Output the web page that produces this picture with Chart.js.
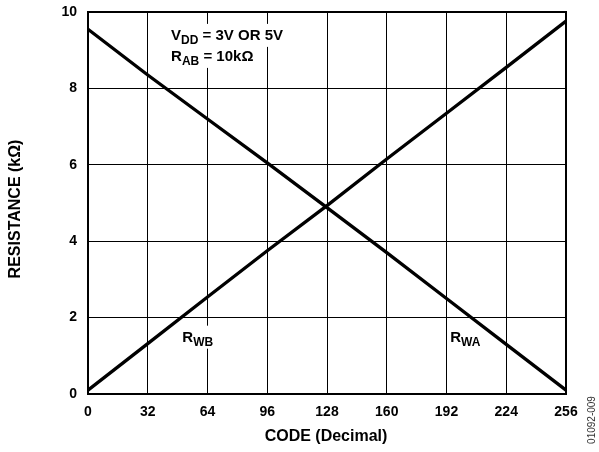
<!DOCTYPE html>
<html>
<head>
<meta charset="utf-8">
<script src="https://cdn.jsdelivr.net/npm/chart.js@4.4.0/dist/chart.umd.min.js"></script>
<style>
  html, body { margin: 0; padding: 0; background: #fff; }
  #wrap { width: 599px; height: 452px; }
</style>
</head>
<body>
<div id="wrap"><canvas id="resChart"></canvas></div>
<script>
// codes, every 32 steps
var codes = [0, 32, 64, 96, 128, 160, 192, 224, 256];
// R_WB rises, R_WA falls (kOhm)
var rwb = [0.1, 1.32, 2.54, 3.75, 4.93, 6.15, 7.35, 8.55, 9.76];
var rwa = [9.55, 8.35, 7.2, 6.05, 4.88, 3.7, 2.5, 1.3, 0.1];
var xTicks = [0, 32, 64, 96, 128, 160, 192, 224, 256];
var yTicks = [0, 2, 4, 6, 8, 10];

var FONT = '"Liberation Sans", Arial, Helvetica, sans-serif';

function pts(ys) {
    return codes.map(function (c, i) { return { x: c, y: ys[i] }; });
}

// draws "R" + subscript etc., with white box behind
function subText(ctx, x, y, main, sub, rest, size) {
    var subSize = Math.round(size * 0.8);
    ctx.font = 'bold ' + size + 'px ' + FONT;
    var w1 = ctx.measureText(main).width;
    ctx.font = 'bold ' + subSize + 'px ' + FONT;
    var w2 = ctx.measureText(sub).width;
    ctx.font = 'bold ' + size + 'px ' + FONT;
    var w3 = ctx.measureText(rest).width;
    ctx.fillStyle = '#fff';
    ctx.fillRect(x - 3, y - size - 1, w1 + w2 + w3 + 6, size + 8);
    ctx.fillStyle = '#000';
    ctx.textAlign = 'left';
    ctx.textBaseline = 'alphabetic';
    ctx.fillText(main, x, y);
    ctx.font = 'bold ' + subSize + 'px ' + FONT;
    ctx.fillText(sub, x + w1, y + 4);
    ctx.font = 'bold ' + size + 'px ' + FONT;
    ctx.fillText(rest, x + w1 + w2, y);
}

var labelsPlugin = {
    id: 'labels',
    beforeDatasetsDraw: function (chart) {
        var ctx = chart.ctx;
        var xs = chart.scales.x, ys = chart.scales.y;
        ctx.save();
        subText(ctx, xs.getPixelForValue(44.5), ys.getPixelForValue(9.27), 'V', 'DD', ' = 3V OR 5V', 15);
        subText(ctx, xs.getPixelForValue(44.5), ys.getPixelForValue(8.72), 'R', 'AB', ' = 10k\u03A9', 15);
        subText(ctx, xs.getPixelForValue(50.5), ys.getPixelForValue(1.37), 'R', 'WB', '', 15);
        subText(ctx, xs.getPixelForValue(194), ys.getPixelForValue(1.37), 'R', 'WA', '', 15);
        ctx.restore();
    },
    afterDraw: function (chart) {
        var ctx = chart.ctx;
        var a = chart.chartArea;
        ctx.save();
        ctx.fillStyle = '#000';
        ctx.textAlign = 'center';
        ctx.textBaseline = 'middle';
        ctx.font = 'bold 16px ' + FONT;
        ctx.fillText('CODE (Decimal)', 326, 437);
        ctx.save();
        ctx.translate(16, 209);
        ctx.rotate(-Math.PI / 2);
        ctx.fillText('RESISTANCE (k\u03A9)', 0, 0);
        ctx.restore();
        ctx.save();
        ctx.font = '10px ' + FONT;
        ctx.fillStyle = '#333';
        ctx.translate(592, 420);
        ctx.rotate(-Math.PI / 2);
        ctx.fillText('01092-009', 0, 0);
        ctx.restore();
        // frame
        ctx.strokeStyle = '#000';
        ctx.lineWidth = 2;
        ctx.strokeRect(a.left, a.top, a.right - a.left, a.bottom - a.top);
        ctx.restore();
    }
};

var ctx = document.getElementById('resChart').getContext('2d');
var myChart = new Chart(ctx, {
    type: 'line',
    data: {
        datasets: [{
            label: 'RWB',
            data: pts(rwb),
            borderColor: '#000',
            borderWidth: 3.3,
            pointRadius: 0,
            fill: false
        }, {
            label: 'RWA',
            data: pts(rwa),
            borderColor: '#000',
            borderWidth: 3.3,
            pointRadius: 0,
            fill: false
        }]
    },
    options: {
        responsive: true,
        maintainAspectRatio: false,
        animation: false,
        layout: { padding: { left: 0, top: 12, right: 33, bottom: 0 } },
        plugins: {
            legend: { display: false },
            tooltip: { enabled: false }
        },
        scales: {
            x: {
                type: 'linear',
                min: 0,
                max: 256,
                afterBuildTicks: function (s) { s.ticks = xTicks.map(function (v) { return { value: v }; }); },
                afterFit: function (s) { s.height = 58; s.paddingLeft = 0; s.paddingRight = 0; },
                grid: { color: '#000', lineWidth: 1, drawTicks: false },
                border: { display: false },
                ticks: {
                    color: '#000',
                    padding: 10,
                    maxRotation: 0,
                    font: { family: FONT, size: 14, weight: 'bold' }
                }
            },
            y: {
                min: 0,
                max: 10,
                afterBuildTicks: function (s) { s.ticks = yTicks.map(function (v) { return { value: v }; }); },
                afterFit: function (s) { s.width = 88; s.paddingTop = 0; s.paddingBottom = 0; },
                grid: { color: '#000', lineWidth: 1, drawTicks: false },
                border: { display: false },
                ticks: {
                    color: '#000',
                    padding: 11,
                    font: { family: FONT, size: 14, weight: 'bold' }
                }
            }
        }
    },
    plugins: [labelsPlugin]
});
</script>
</body>
</html>
